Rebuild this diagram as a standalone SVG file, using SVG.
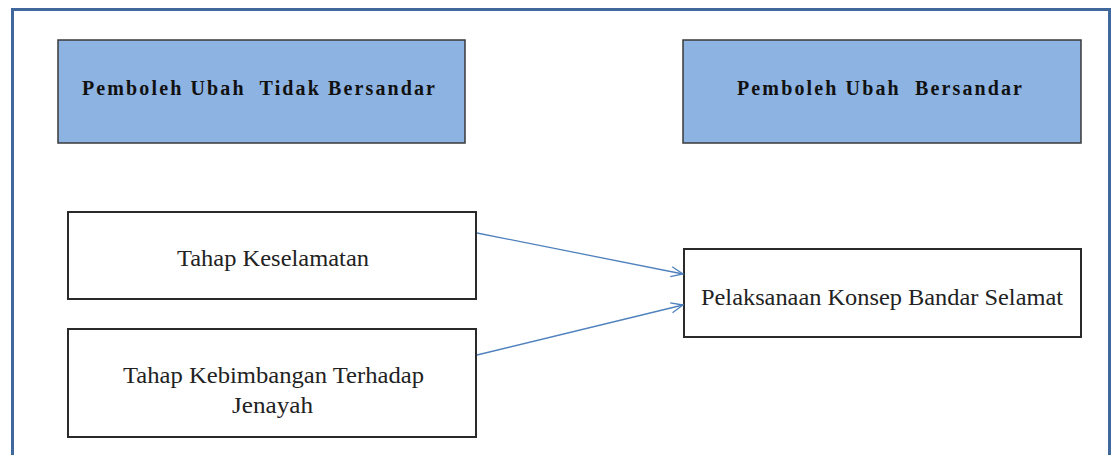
<svg xmlns="http://www.w3.org/2000/svg" width="1114" height="455" viewBox="0 0 1114 455">
<style>
.hdr{fill:#8db3e2;stroke:#3a3a3a;stroke-width:1.5}
.box{fill:#ffffff;stroke:#2a2a2a;stroke-width:2}
.ht{font-family:"Liberation Serif","Times New Roman",serif;font-weight:bold;font-size:20px;fill:#111}
.bt{font-family:"Liberation Serif","Times New Roman",serif;font-size:24px;fill:#222}
.conn{stroke:#4f81bd;stroke-width:1.3;fill:none;marker-end:url(#arr)}
</style>
<defs>
<marker id="arr" markerWidth="14" markerHeight="12" refX="13" refY="6" orient="auto" markerUnits="userSpaceOnUse">
<path d="M1,1 L13,6 L1,11" fill="none" stroke="#4f81bd" stroke-width="1.3"/>
</marker>
</defs>
<rect width="1114" height="455" fill="#ffffff"/>
<rect id="frame" x="12.5" y="9.5" width="1097" height="460" fill="none" stroke="#41689c" stroke-width="3"/>
<g id="hdr-left">
<rect class="hdr" x="58" y="40" width="407" height="103"/>
<text class="ht" x="258.5" y="95" text-anchor="middle" textLength="353" lengthAdjust="spacing" xml:space="preserve">Pemboleh Ubah  Tidak Bersandar</text>
</g>
<g id="hdr-right">
<rect class="hdr" x="683" y="40" width="398" height="103"/>
<text class="ht" x="879.5" y="95" text-anchor="middle" textLength="285" lengthAdjust="spacing" xml:space="preserve">Pemboleh Ubah  Bersandar</text>
</g>
<g id="node-keselamatan">
<rect class="box" x="68" y="212" width="408" height="87"/>
<text class="bt" x="273" y="266" text-anchor="middle" textLength="192" lengthAdjust="spacingAndGlyphs">Tahap Keselamatan</text>
</g>
<g id="node-kebimbangan">
<rect class="box" x="68" y="329" width="408" height="108"/>
<text class="bt" x="273.5" y="383" text-anchor="middle" textLength="301" lengthAdjust="spacingAndGlyphs">Tahap Kebimbangan Terhadap</text>
<text class="bt" x="272.5" y="413" text-anchor="middle" textLength="81" lengthAdjust="spacingAndGlyphs">Jenayah</text>
</g>
<g id="node-pelaksanaan">
<rect class="box" x="684" y="249" width="397" height="88"/>
<text class="bt" x="882" y="305" text-anchor="middle" textLength="362" lengthAdjust="spacingAndGlyphs">Pelaksanaan Konsep Bandar Selamat</text>
</g>
<g id="connectors">
<line class="conn" x1="477" y1="233" x2="683" y2="274"/>
<line class="conn" x1="477" y1="355" x2="683" y2="305"/>
</g>
</svg>
